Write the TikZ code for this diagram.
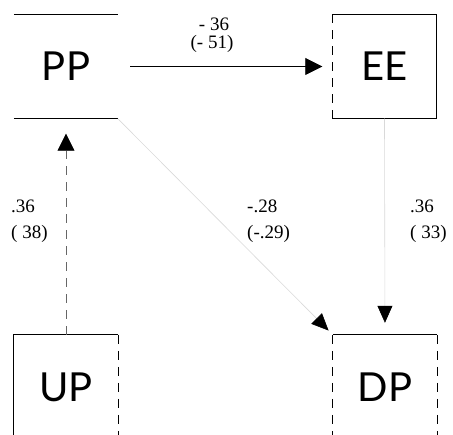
\documentclass[tikz,border=0pt]{standalone}
\usepackage{fontspec}
\setsansfont{Lato}
\newfontfamily\numfont{Liberation Serif}
\usetikzlibrary{arrows.meta}
\begin{document}
\begin{tikzpicture}[x=1pt,y=-1pt,
  box/.style={minimum width=104pt, minimum height=104pt, inner sep=0pt,
    font=\sffamily\fontsize{40}{40}\selectfont},
  edge/.style={line width=0.8pt},
  dashedge/.style={line width=0.7pt, dash pattern=on 9pt off 7pt},
  arr/.style={-{Triangle[length=17pt,width=17pt]}, line width=0.8pt},
  faintarr/.style={-{Triangle[length=17pt,width=15pt,color=black]}, line width=0.6pt, draw=black!15},
  lbl/.style={font=\numfont\fontsize{19}{19}\selectfont, inner sep=0pt}]
\useasboundingbox (0,0) rectangle (453,435);
\clip (0,0) rectangle (453,435);
% boxes
\node[box] (pp) at (66,66.5) {PP};
\node[box] (ee) at (384.5,66.5) {EE};
\node[box] (up) at (66,387) {UP};
\node[box] (dp) at (385,387) {DP};
% box edges
\draw[edge] (pp.north west) -- (pp.north east);
\draw[edge] (pp.south west) -- (pp.south east);
\draw[edge] (ee.south west) -- (ee.south east) -- (ee.north east) -- (ee.north west);
\draw[dashedge] (ee.north west) -- (ee.south west);
\draw[edge] (up.south west) -- (up.north west) -- (up.north east);
\draw[dashedge] (up.north east) -- (up.south east);
\draw[edge] (dp.north west) -- (dp.north east);
\draw[dashedge] (dp.north west) -- (dp.south west);
\draw[dashedge] (dp.north east) -- (dp.south east);
% connectors
\draw[arr, shorten <=12pt, shorten >=10pt] (pp.east) -- (ee.west);
\draw[arr, dashedge, draw=black!60, -{Triangle[length=17pt,width=17pt,color=black]}, shorten >=15pt] (up.north) -- (pp.south);
\draw[faintarr, shorten >=6pt] (pp) -- (dp.north west);
\draw[faintarr, shorten >=12pt] (ee.south) -- (dp.north);
% labels
\node[lbl] (a1) at (214,24) {- 36};
\node[lbl] (a2) at (212,44) {(- 51)};
\node[lbl, anchor=west] (b1) at (11,206) {.36};
\node[lbl, anchor=west] (b2) at (11,234) {( 38)};
\node[lbl, anchor=west] (c1) at (247,206) {-.28};
\node[lbl, anchor=west] (c2) at (247,234) {(-.29)};
\node[lbl, anchor=west] (d1) at (410,206) {.36};
\node[lbl, anchor=west] (d2) at (410,234) {( 33)};
\end{tikzpicture}
\end{document}
